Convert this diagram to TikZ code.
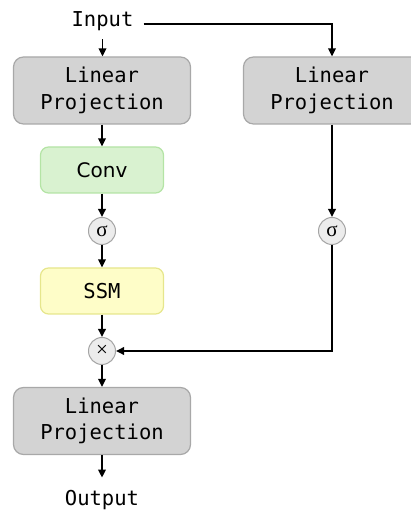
\documentclass[tikz,border=0pt]{standalone}
\usepackage{fontspec}
\setmonofont{DejaVu Sans Mono}
\newfontfamily\convfont{DejaVu Sans}
\newfontfamily\symfont{Liberation Serif}
\usetikzlibrary{arrows.meta}
\definecolor{boxgray}{RGB}{211,211,211}
\definecolor{grayedge}{RGB}{168,168,168}
\definecolor{convfill}{RGB}{217,242,208}
\definecolor{convedge}{RGB}{180,228,165}
\definecolor{ssmfill}{RGB}{254,253,200}
\definecolor{ssmedge}{RGB}{230,230,140}
\definecolor{circfill}{RGB}{236,236,236}
\definecolor{circedge}{RGB}{165,165,165}
\begin{document}
\begin{tikzpicture}[x=1pt,y=1pt,
  arr/.style={line width=1.8pt, -{Triangle[length=8pt,width=7.5pt]}},
  mono/.style={font=\ttfamily\fontsize{20.5}{26.5}\selectfont},
  lp/.style={mono, draw=grayedge, fill=boxgray, line width=1.2pt, rounded corners=10pt,
    minimum width=177pt, minimum height=67pt, align=center, inner sep=0pt},
  small/.style={line width=1.2pt, rounded corners=8pt, minimum width=123pt, minimum height=46pt, inner sep=0pt},
  circ/.style={circle, draw=circedge, fill=circfill, line width=1pt, minimum size=27pt, inner sep=0pt,
    font=\symfont\fontsize{21}{21}\selectfont},
  txt/.style={mono, inner sep=0pt}
]
\useasboundingbox (0,0) rectangle (411,510);
\clip (0,0) rectangle (411,510);

\node[txt, anchor=base] (input) at (102.5,483) {Input};
\node[lp] (lp1) at (102,419.5) {Linear\\Projection};
\node[lp] (lp2) at (332,419.5) {Linear\\Projection};
\node[small, draw=convedge, fill=convfill, font=\convfont\fontsize{20}{24}\selectfont] (conv) at (102,340) {Conv};
\node[circ] (sig1) at (102,279) {σ};
\node[circ] (sig2) at (332,279) {σ};
\node[small, mono, draw=ssmedge, fill=ssmfill] (ssm) at (102,219) {SSM};
\node[circ] (mul) at (102,159) {×};
\node[lp] (lp3) at (102,89) {Linear\\Projection};
\node[txt, anchor=base] (output) at (102,5) {Output};

\draw[arr, shorten <=8pt] (input.south) -- (input.south |- lp1.north);
\draw[arr, shorten <=10pt] ([yshift=-2pt]input.east) -| (lp2.north);
\draw[arr] (lp1.south -| conv.north) -- (conv.north);
\draw[arr] (conv.south -| sig1.north) -- (sig1.north);
\draw[arr] (sig1.south) -- (sig1.south |- ssm.north);
\draw[arr] (ssm.south -| mul.north) -- (mul.north);
\draw[arr] (mul.south) -- (mul.south |- lp3.north);
\draw[arr, shorten >=12pt] (lp3.south -| output.north) -- (output.north);
\draw[arr] (lp2.south -| sig2.north) -- (sig2.north);
\draw[arr] (sig2.south) |- (mul.east);
\end{tikzpicture}
\end{document}
